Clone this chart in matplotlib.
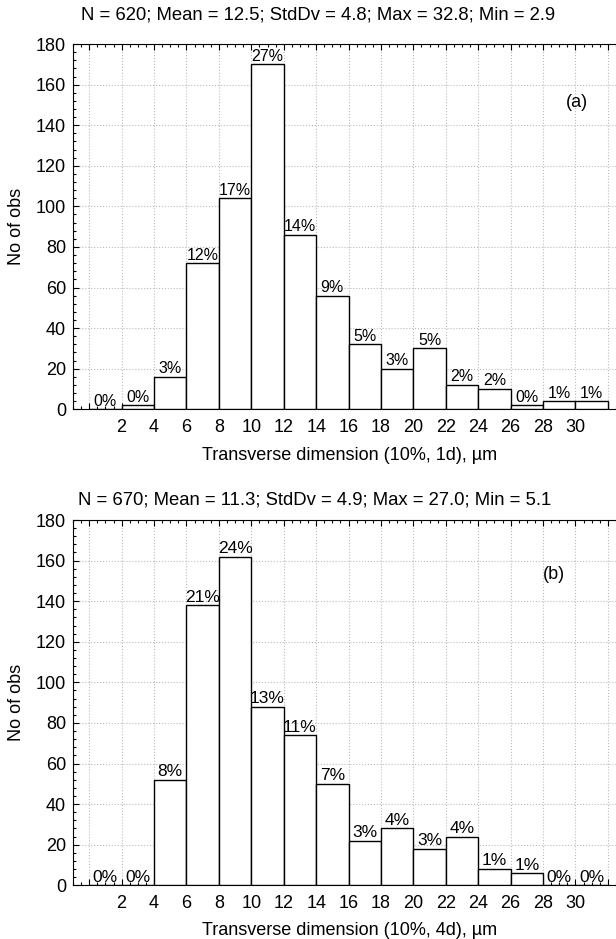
import matplotlib
matplotlib.use('Agg')
import matplotlib.pyplot as plt
import numpy as np
from matplotlib.ticker import MultipleLocator, FixedLocator

plt.rcParams['font.family'] = ['Liberation Sans', 'DejaVu Sans']

# bin edges 0..32 step 2
bin_left = [0, 2, 4, 6, 8, 10, 12, 14, 16, 18, 20, 22, 24, 26, 28, 30]
counts_a = [0, 2, 16, 72, 104, 170, 86, 56, 32, 20, 30, 12, 10, 2, 4, 4]
counts_b = [0, 0, 52, 138, 162, 88, 74, 50, 22, 28, 18, 24, 8, 6, 0, 0]
title_a = "N = 620; Mean = 12.5; StdDv = 4.8; Max = 32.8; Min = 2.9"
title_b = "N = 670; Mean = 11.3; StdDv = 4.9; Max = 27.0; Min = 5.1"
xlabel_a = "Transverse dimension (10%, 1d), µm"
xlabel_b = "Transverse dimension (10%, 4d), µm"
xticks = [2, 4, 6, 8, 10, 12, 14, 16, 18, 20, 22, 24, 26, 28, 30]

FS = 13


def draw_hist(ax, counts, tag, tag_xy, pct_size, xlabel, xlab_y):
    total = sum(counts)
    ax.bar(bin_left, counts, width=2, align='edge', color='white',
           edgecolor='black', linewidth=1.0, zorder=3)
    for x, c in zip(bin_left, counts):
        ax.text(x + 1, c + 0.3, "%d%%" % round(100.0 * c / total),
                ha='center', va='bottom', fontsize=pct_size, zorder=4)
    ax.set_xlim(-1, 32.5)
    ax.set_ylim(0, 180)
    ax.xaxis.set_major_locator(FixedLocator(np.arange(0, 34, 2)))
    ax.set_xticklabels(['' if t not in xticks else str(t) for t in np.arange(0, 34, 2)])
    ax.xaxis.set_minor_locator(MultipleLocator(0.5))
    ax.yaxis.set_major_locator(MultipleLocator(20))
    ax.yaxis.set_minor_locator(MultipleLocator(4))
    ax.tick_params(which='both', direction='in', top=True, right=False,
                   labelsize=FS, width=0.8)
    ax.tick_params(which='major', length=4, pad=5)
    ax.tick_params(axis='x', which='major', pad=7)
    ax.tick_params(which='minor', length=2)
    ax.grid(True, which='major', linestyle=':', color='#bbbbbb', linewidth=0.8, zorder=0)
    ax.spines['right'].set_visible(False)
    ax.set_ylabel("No of obs", fontsize=FS)
    ax.yaxis.set_label_coords(-0.088, 0.5)
    ax.set_xlabel(xlabel, fontsize=FS)
    ax.xaxis.set_label_coords(0.51, xlab_y)
    ax.text(tag_xy[0], tag_xy[1], tag, fontsize=FS, ha='center', va='center')


fig = plt.figure(figsize=(6.16, 9.39), dpi=100)
ax1 = fig.add_axes([0.1185, 0.5641, 0.8815, 0.389])
ax2 = fig.add_axes([0.1185, 0.0572, 0.8815, 0.389])

draw_hist(ax1, counts_a, "(a)", (30.1, 151), 11.5, xlabel_a, -0.103)
draw_hist(ax2, counts_b, "(b)", (28.7, 153), 12.5, xlabel_b, -0.1)

fig.text(318 / 616, 1 - 15 / 939, title_a, ha='center', va='center', fontsize=13.3)
fig.text(315 / 616, 1 - 500 / 939, title_b, ha='center', va='center', fontsize=13.3)

fig.savefig("out.png", dpi=100)
